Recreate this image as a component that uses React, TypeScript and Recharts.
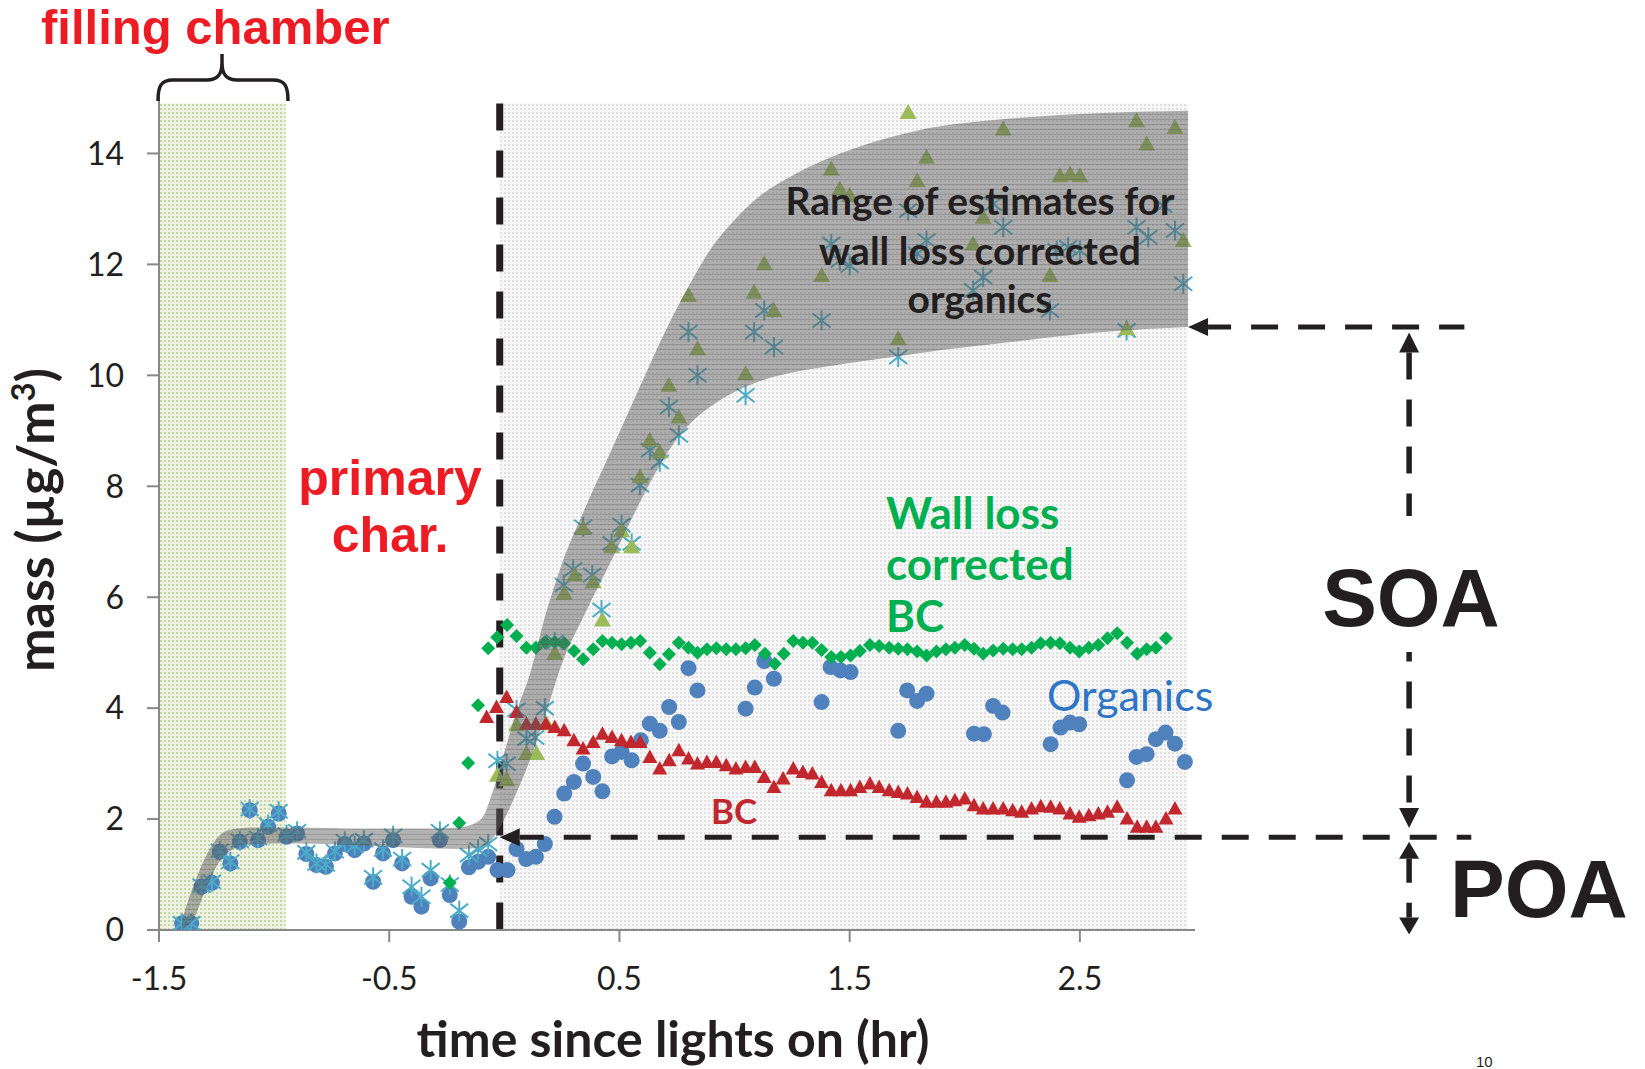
import React from "react";
import {
  ComposedChart,
  XAxis,
  YAxis,
  Scatter,
  Area,
  ReferenceArea,
  ReferenceLine,
} from "recharts";

// [time since lights on (hr), mass (µg/m3)]
const organics: [number, number][] = [
  [-1.4, 0.12], [-1.36, 0.12], [-1.315, 0.78], [-1.27, 0.85], [-1.236, 1.41], [-1.19, 1.2],
  [-1.149, 1.59], [-1.106, 2.16], [-1.07, 1.62], [-1.026, 1.86], [-0.98, 2.1], [-0.946, 1.68],
  [-0.9, 1.74], [-0.86, 1.37], [-0.816, 1.17], [-0.775, 1.14], [-0.736, 1.38], [-0.693, 1.55],
  [-0.65, 1.44], [-0.61, 1.56], [-0.57, 0.87], [-0.527, 1.38], [-0.483, 1.62], [-0.444, 1.2],
  [-0.403, 0.6], [-0.36, 0.42], [-0.32, 0.93], [-0.28, 1.62], [-0.237, 0.63], [-0.196, 0.15],
  [-0.154, 1.13], [-0.114, 1.23], [-0.07, 1.32], [-0.03, 1.08], [0.014, 1.08], [0.053, 1.46],
  [0.095, 1.28], [0.137, 1.32], [0.176, 1.55], [0.218, 2.04], [0.26, 2.46], [0.302, 2.67],
  [0.342, 3.0], [0.386, 2.76], [0.426, 2.5], [0.468, 3.13], [0.509, 3.21], [0.553, 3.06],
  [0.593, 3.42], [0.632, 3.72], [0.675, 3.59], [0.716, 4.02], [0.758, 3.75], [0.8, 4.72],
  [0.839, 4.32], [1.048, 3.99], [1.088, 4.37], [1.129, 4.85], [1.171, 4.53], [1.378, 4.11],
  [1.417, 4.74], [1.46, 4.68], [1.504, 4.65], [1.711, 3.59], [1.75, 4.32], [1.793, 4.13],
  [1.834, 4.26], [2.04, 3.54], [2.083, 3.53], [2.123, 4.04], [2.164, 3.92], [2.373, 3.35],
  [2.416, 3.65], [2.457, 3.74], [2.497, 3.71], [2.705, 2.7], [2.746, 3.12], [2.79, 3.17],
  [2.83, 3.44], [2.872, 3.56], [2.913, 3.36], [2.956, 3.03],
];

// lower wall loss corrected estimate (stars)
const wallLossLow: [number, number][] = [
  [-1.4, 0.12], [-1.36, 0.12], [-1.315, 0.8], [-1.27, 0.87], [-1.236, 1.43], [-1.19, 1.23],
  [-1.149, 1.61], [-1.106, 2.18], [-1.07, 1.66], [-1.026, 1.9], [-0.98, 2.14], [-0.946, 1.72],
  [-0.9, 1.78], [-0.86, 1.4], [-0.816, 1.2], [-0.775, 1.18], [-0.736, 1.42], [-0.693, 1.6],
  [-0.65, 1.52], [-0.61, 1.62], [-0.57, 0.95], [-0.527, 1.45], [-0.483, 1.7], [-0.444, 1.28],
  [-0.403, 0.78], [-0.36, 0.6], [-0.32, 1.08], [-0.28, 1.78], [-0.237, 0.82], [-0.196, 0.35],
  [-0.154, 1.35], [-0.114, 1.45], [-0.07, 1.55], [-0.03, 3.05], [0.01, 3.0], [0.053, 3.97],
  [0.096, 3.45], [0.134, 3.47], [0.176, 4.0], [0.219, 5.19], [0.258, 6.22], [0.299, 6.5],
  [0.342, 7.27], [0.382, 6.4], [0.422, 5.77], [0.466, 6.97], [0.509, 7.3], [0.553, 6.97],
  [0.589, 8.02], [0.632, 8.65], [0.675, 8.44], [0.715, 9.43], [0.758, 8.92], [0.8, 10.78],
  [0.839, 10.0], [1.048, 9.64], [1.085, 10.78], [1.129, 11.17], [1.171, 10.51], [1.378, 10.99],
  [1.42, 12.37], [1.457, 12.07], [1.5, 11.98], [1.711, 10.33], [1.754, 12.97], [1.793, 12.19],
  [1.834, 12.43], [2.036, 11.53], [2.08, 11.77], [2.123, 13.09], [2.167, 12.67], [2.37, 11.17],
  [2.399, 12.25], [2.449, 12.31], [2.5, 12.25], [2.703, 10.81], [2.746, 12.67], [2.797, 12.49],
  [2.862, 13.06], [2.913, 12.61], [2.949, 11.65],
];

// upper wall loss corrected estimate (green triangles)
const wallLossHigh: [number, number][] = [
  [-0.03, 2.79], [0.01, 2.71], [0.053, 3.7], [0.096, 3.18], [0.14, 3.18], [0.183, 3.72],
  [0.219, 4.99], [0.26, 6.07], [0.306, 6.4], [0.342, 7.24], [0.386, 6.28], [0.426, 5.59],
  [0.466, 6.91], [0.509, 7.2], [0.553, 6.91], [0.589, 8.17], [0.632, 8.83], [0.675, 8.62],
  [0.715, 9.82], [0.758, 9.25], [0.8, 11.44], [0.839, 10.48], [1.048, 10.03], [1.085, 11.5],
  [1.129, 12.01], [1.171, 11.17], [1.378, 11.8], [1.42, 13.72], [1.457, 13.36], [1.5, 13.24],
  [1.711, 10.66], [1.754, 14.74], [1.793, 13.51], [1.834, 13.93], [2.036, 12.37], [2.08, 12.85],
  [2.167, 14.44], [2.37, 11.8], [2.413, 13.6], [2.457, 13.63], [2.5, 13.6], [2.703, 10.84],
  [2.746, 14.59], [2.79, 14.17], [2.913, 14.47], [2.949, 12.43],
];

// wall loss corrected BC (diamonds)
const bcCorrected: [number, number][] = [
  [-0.237, 0.85], [-0.196, 1.93], [-0.157, 3.01], [-0.114, 4.05], [-0.07, 5.08], [-0.031, 5.28],
  [0.012, 5.5], [0.053, 5.3], [0.096, 5.09], [0.137, 5.09], [0.176, 5.19], [0.219, 5.19],
  [0.26, 5.17], [0.303, 5.03], [0.342, 4.88], [0.386, 5.06], [0.426, 5.21], [0.468, 5.18],
  [0.509, 5.15], [0.55, 5.18], [0.59, 5.21], [0.632, 5.0], [0.675, 4.79], [0.715, 4.97],
  [0.758, 5.18], [0.8, 5.09], [0.839, 5.0], [0.88, 5.06], [0.921, 5.08], [0.964, 5.06],
  [1.006, 5.06], [1.048, 5.08], [1.088, 5.14], [1.132, 4.98], [1.175, 4.8], [1.214, 4.98],
  [1.255, 5.21], [1.297, 5.18], [1.338, 5.18], [1.378, 5.05], [1.42, 4.92], [1.462, 4.92],
  [1.504, 4.95], [1.544, 5.03], [1.588, 5.14], [1.628, 5.12], [1.672, 5.09], [1.711, 5.07],
  [1.751, 5.06], [1.793, 5.02], [1.834, 4.95], [1.877, 5.02], [1.918, 5.06], [1.957, 5.09],
  [2.0, 5.14], [2.04, 5.07], [2.08, 4.98], [2.123, 5.04], [2.167, 5.07], [2.208, 5.06],
  [2.247, 5.06], [2.29, 5.09], [2.33, 5.17], [2.373, 5.18], [2.413, 5.17], [2.457, 5.09],
  [2.497, 5.02], [2.539, 5.09], [2.58, 5.14], [2.62, 5.26], [2.662, 5.35], [2.705, 5.18],
  [2.749, 4.98], [2.79, 5.06], [2.83, 5.09], [2.874, 5.26],
];

// BC (red triangles)
const bc: [number, number][] = [
  [-0.077, 3.84], [-0.034, 4.02], [0.01, 4.2], [0.053, 3.93], [0.096, 3.72], [0.137, 3.72],
  [0.18, 3.72], [0.219, 3.66], [0.26, 3.6], [0.302, 3.42], [0.342, 3.27], [0.386, 3.39],
  [0.426, 3.54], [0.468, 3.48], [0.509, 3.42], [0.55, 3.39], [0.59, 3.39], [0.632, 3.12],
  [0.675, 2.91], [0.716, 3.06], [0.758, 3.24], [0.8, 3.09], [0.839, 3.0], [0.88, 3.03],
  [0.921, 3.03], [0.964, 2.97], [1.006, 2.91], [1.048, 2.94], [1.088, 2.94], [1.129, 2.76],
  [1.171, 2.58], [1.211, 2.73], [1.255, 2.91], [1.297, 2.85], [1.338, 2.82], [1.378, 2.67],
  [1.42, 2.52], [1.462, 2.52], [1.504, 2.52], [1.544, 2.58], [1.588, 2.64], [1.628, 2.58],
  [1.672, 2.52], [1.711, 2.49], [1.751, 2.46], [1.793, 2.4], [1.834, 2.31], [1.877, 2.31],
  [1.918, 2.31], [1.957, 2.34], [2.0, 2.37], [2.04, 2.25], [2.08, 2.19], [2.123, 2.19],
  [2.167, 2.19], [2.208, 2.16], [2.247, 2.13], [2.29, 2.19], [2.33, 2.23], [2.373, 2.22],
  [2.413, 2.19], [2.457, 2.1], [2.497, 2.04], [2.539, 2.07], [2.58, 2.1], [2.62, 2.13],
  [2.662, 2.22], [2.705, 2.01], [2.749, 1.86], [2.79, 1.86], [2.83, 1.86], [2.874, 2.01],
  [2.913, 2.19],
];

// range of estimates band
const bandTime = [-1.4, -1.35, -1.3, -1.25, -1.2, -1.1, -0.9, -0.6, -0.3, -0.18, -0.1, -0.05, 0, 0.05, 0.11, 0.18, 0.25, 0.35, 0.47, 0.6, 0.7, 0.8, 0.9, 1.0, 1.1, 1.25, 1.4, 1.6, 1.8, 2.2, 2.6, 2.97];
const bandLow = [0, 0.2, 0.7, 1.15, 1.4, 1.55, 1.56, 1.52, 1.47, 1.46, 1.5, 1.65, 2.0, 2.45, 3.05, 3.9, 4.8, 5.7, 6.7, 7.8, 8.55, 9.1, 9.45, 9.7, 9.88, 10.05, 10.16, 10.28, 10.4, 10.6, 10.78, 10.87];
const bandHigh = [0.2, 0.8, 1.3, 1.65, 1.8, 1.85, 1.85, 1.83, 1.83, 1.86, 2.0, 2.5, 3.2, 3.9, 4.6, 5.7, 6.6, 7.6, 8.7, 9.9, 10.8, 11.6, 12.3, 12.8, 13.2, 13.6, 13.9, 14.2, 14.42, 14.63, 14.73, 14.77];

const xTicks = [-1.5, -0.5, 0.5, 1.5, 2.5];
const yTicks = [0, 2, 4, 6, 8, 10, 12, 14];

// annotation positions, in data units
const LIGHTS_ON = -0.02;
const FILL_END = -0.95;
const SHADE_END = 2.97;
const SHADE_TOP = 14.9;
const POA_LEVEL = 1.67;
const SOA_LEVEL = 10.87;
const BRACKET_X = 3.93;
const LINE_END = 4.2;

const W = 1645;
const H = 1069;
const DARK = "#231f20";
const RED = "#ed1c24";

const bandData = bandTime.map((x, i) => ({ x, range: [bandLow[i], bandHigh[i]] }));
const toPts = (arr: [number, number][]) => arr.map(([x, y]) => ({ x, y }));

const CircleDot = (p: any) => <circle cx={p.cx} cy={p.cy} r={8} fill="#4f81bd" />;

const StarDot = (p: any) => {
  const { cx, cy } = p;
  return (
    <g stroke="#4bacc6" strokeWidth={2}>
      <line x1={cx} y1={cy - 10} x2={cx} y2={cy + 10} />
      <line x1={cx - 9} y1={cy - 7} x2={cx + 9} y2={cy + 7} />
      <line x1={cx - 9} y1={cy + 7} x2={cx + 9} y2={cy - 7} />
    </g>
  );
};

const GreenTri = (p: any) => (
  <path d={`M${p.cx},${p.cy - 8.5} L${p.cx + 8.5},${p.cy + 6.5} L${p.cx - 8.5},${p.cy + 6.5} Z`} fill="#9bbb59" />
);

const Diamond = (p: any) => (
  <path d={`M${p.cx},${p.cy - 7} L${p.cx + 7},${p.cy} L${p.cx},${p.cy + 7} L${p.cx - 7},${p.cy} Z`} fill="#00b050" />
);

const RedTri = (p: any) => (
  <path d={`M${p.cx},${p.cy - 7.5} L${p.cx + 7.5},${p.cy + 6} L${p.cx - 7.5},${p.cy + 6} Z`} fill="#c1272d" />
);

type ArrowOpts = { headStart?: boolean; headEnd?: boolean; lead?: number; dash?: number; gap?: number; width?: number; headLen?: number; headHalf?: number };

const makeArrow = (o: ArrowOpts) => (p: any) => {
  const { x1, y1, x2, y2 } = p;
  const { headStart, headEnd, lead = 0, dash = 27, gap = 20, width = 5, headLen = 20, headHalf = 9 } = o;
  const len = Math.hypot(x2 - x1, y2 - y1) || 1;
  const ux = (x2 - x1) / len;
  const uy = (y2 - y1) / len;
  const sx = headStart ? x1 + ux * headLen : x1;
  const sy = headStart ? y1 + uy * headLen : y1;
  const ex = headEnd ? x2 - ux * headLen : x2;
  const ey = headEnd ? y2 - uy * headLen : y2;
  const pattern: number[] = lead ? [lead, gap] : [];
  for (let i = 0; i < 40; i++) pattern.push(dash, gap);
  const tri = (tx: number, ty: number, dx: number, dy: number) => {
    const bx = tx - dx * headLen;
    const by = ty - dy * headLen;
    const px = -dy * headHalf;
    const py = dx * headHalf;
    return `M${tx},${ty} L${bx + px},${by + py} L${bx - px},${by - py} Z`;
  };
  return (
    <g>
      <line x1={sx} y1={sy} x2={ex} y2={ey} stroke={DARK} strokeWidth={width} strokeDasharray={pattern.join(" ")} />
      {headStart && <path d={tri(x1, y1, -ux, -uy)} fill={DARK} />}
      {headEnd && <path d={tri(x2, y2, ux, uy)} fill={DARK} />}
    </g>
  );
};

const tickStyle = { fill: DARK, fontSize: 32, fontFamily: "Lato, sans-serif" };

function Annotations() {
  const lato = "Lato, sans-serif";
  const arial = "'Liberation Sans', Arial, sans-serif";
  return (
    <svg width={W} height={H} style={{ position: "absolute", left: 0, top: 0, pointerEvents: "none" }}>
      <text x={41} y={44} fontFamily={arial} fontWeight={700} fontSize={49} fill={RED}>filling chamber</text>
      <path
        d="M158,101 C158,86 161,80 173,80 L207,80 C217,80 222,75 222,63 L222,54 M222,54 L222,63 C222,75 227,80 237,80 L273,80 C285,80 288,86 288,101"
        fill="none" stroke={DARK} strokeWidth={3.5}
      />
      <text x={390} y={495} textAnchor="middle" fontFamily={arial} fontWeight={700} fontSize={50} fill={RED}>primary</text>
      <text x={390} y={552} textAnchor="middle" fontFamily={arial} fontWeight={700} fontSize={50} fill={RED}>char.</text>

      <g fontFamily={lato} fontWeight={700} fontSize={39} fill={DARK} textAnchor="middle">
        <text x={980} y={215}>Range of estimates for</text>
        <text x={980} y={265}>wall loss corrected</text>
        <text x={980} y={313}>organics</text>
      </g>
      <g fontFamily={lato} fontWeight={700} fontSize={44} fill="#00b050">
        <text x={886} y={529}>Wall loss</text>
        <text x={886} y={580}>corrected</text>
        <text x={886} y={632}>BC</text>
      </g>
      <text x={1047} y={711} fontFamily={lato} fontSize={43} fill="#2e75c6">Organics</text>
      <text x={734} y={824} textAnchor="middle" fontFamily={lato} fontWeight={700} fontSize={35} fill="#c0282d">BC</text>

      <rect x={1398} y={516} width={22} height={136} fill="#fff" />
      <text x={1411} y={626} textAnchor="middle" fontFamily={arial} fontWeight={700} fontSize={82} fill={DARK}>SOA</text>
      <text x={1450} y={917} fontFamily={arial} fontWeight={700} fontSize={82} fill={DARK}>POA</text>

      <text x={673} y={1057} textAnchor="middle" fontFamily={lato} fontWeight={700} fontSize={50} fill={DARK}>time since lights on (hr)</text>
      <text transform="translate(54,520) rotate(-90)" textAnchor="middle" fontFamily={lato} fontWeight={700} fontSize={52} fill={DARK}>
        mass (µg/m<tspan dy={-19} fontSize={33}>3</tspan><tspan dy={19}>)</tspan>
      </text>
      <text x={1476} y={1067} fontFamily={arial} fontSize={15} fill={DARK}>10</text>
    </svg>
  );
}

export default function App() {
  return (
    <div style={{ position: "absolute", left: 0, top: 0, width: W, height: H, background: "#fff" }}>
      <ComposedChart width={W} height={H} data={bandData} margin={{ top: 98, right: 450, bottom: 79, left: 79 }}>
        <defs>
          <pattern id="greenDots" width="4" height="4" patternUnits="userSpaceOnUse">
            <rect width="4" height="4" fill="#edf2e1" />
            <rect width="2" height="2" fill="#c8d6ab" />
          </pattern>
          <pattern id="grayDots" width="4" height="4" patternUnits="userSpaceOnUse">
            <rect width="4" height="4" fill="#f7f7f7" />
            <rect width="2" height="2" fill="#e0e0e0" />
          </pattern>
          <pattern id="bandHatch" width="5" height="5" patternUnits="userSpaceOnUse">
            <rect width="5" height="5" fill="rgba(95,95,95,0.48)" />
            <rect y="4" width="5" height="1" fill="rgba(60,60,60,0.2)" />
          </pattern>
        </defs>

        <ReferenceArea x1={-1.5} x2={FILL_END} y1={0} y2={SHADE_TOP} fill="url(#greenDots)" fillOpacity={1} stroke="none" ifOverflow="visible" zIndex={50} />
        <ReferenceArea x1={LIGHTS_ON} x2={SHADE_END} y1={0} y2={SHADE_TOP} fill="url(#grayDots)" fillOpacity={1} stroke="none" ifOverflow="visible" zIndex={50} />

        <XAxis
          type="number"
          dataKey="x"
          domain={[-1.5, 3]}
          ticks={xTicks}
          allowDataOverflow
          height={60}
          tickSize={12}
          tickMargin={25}
          tick={tickStyle}
          axisLine={{ stroke: "#888", strokeWidth: 2 }}
          tickLine={{ stroke: "#888", strokeWidth: 2 }}
        />
        <YAxis
          type="number"
          domain={[0, 15]}
          ticks={yTicks}
          allowDataOverflow
          width={80}
          tickSize={12}
          tickMargin={23}
          tick={tickStyle}
          axisLine={{ stroke: "#888", strokeWidth: 2 }}
          tickLine={{ stroke: "#888", strokeWidth: 2 }}
        />

        <ReferenceLine
          segment={[{ x: LIGHTS_ON, y: SHADE_TOP }, { x: LIGHTS_ON, y: 0 }]}
          stroke={DARK}
          strokeWidth={7}
          strokeDasharray="27 20"
          ifOverflow="visible"
          zIndex={450}
        />

        <Scatter data={toPts(organics)} dataKey="y" shape={CircleDot} isAnimationActive={false} zIndex={600} />
        <Scatter data={toPts(wallLossLow)} dataKey="y" shape={StarDot} isAnimationActive={false} zIndex={601} />
        <Scatter data={toPts(wallLossHigh)} dataKey="y" shape={GreenTri} isAnimationActive={false} zIndex={602} />
        <Scatter data={toPts(bcCorrected)} dataKey="y" shape={Diamond} isAnimationActive={false} zIndex={603} />
        <Scatter data={toPts(bc)} dataKey="y" shape={RedTri} isAnimationActive={false} zIndex={604} />

        <Area
          type="monotone"
          dataKey="range"
          fill="url(#bandHatch)"
          fillOpacity={1}
          stroke="none"
          dot={false}
          activeDot={false}
          isAnimationActive={false}
          zIndex={700}
        />

        <ReferenceLine
          segment={[{ x: SHADE_END, y: SOA_LEVEL }, { x: LINE_END - 0.03, y: SOA_LEVEL }]}
          ifOverflow="visible"
          shape={makeArrow({ headStart: true, lead: 23 })}
          zIndex={800}
        />
        <ReferenceLine
          segment={[{ x: LIGHTS_ON, y: POA_LEVEL }, { x: LINE_END, y: POA_LEVEL }]}
          ifOverflow="visible"
          shape={makeArrow({ headStart: true, lead: 24 })}
          zIndex={800}
        />
        <ReferenceLine
          segment={[{ x: BRACKET_X, y: 10.77 }, { x: BRACKET_X, y: 1.84 }]}
          ifOverflow="visible"
          shape={makeArrow({ headStart: true, headEnd: true, width: 5.5, headHalf: 10 })}
          zIndex={800}
        />
        <ReferenceLine
          segment={[{ x: BRACKET_X, y: 1.59 }, { x: BRACKET_X, y: -0.08 }]}
          ifOverflow="visible"
          shape={makeArrow({ headStart: true, headEnd: true, dash: 24, width: 5.5, headLen: 17, headHalf: 10 })}
          zIndex={800}
        />
      </ComposedChart>
      <Annotations />
    </div>
  );
}
